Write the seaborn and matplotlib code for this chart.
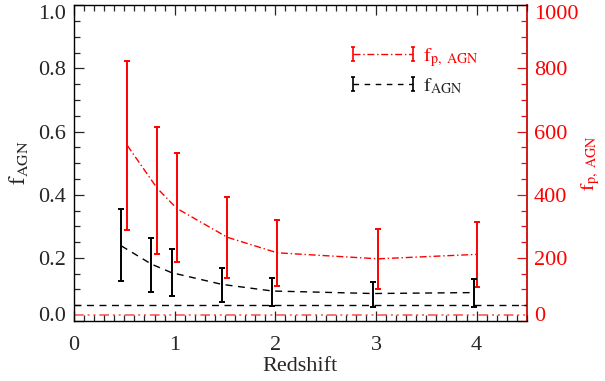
import numpy as np
import pandas as pd
import matplotlib
matplotlib.use("Agg")
import matplotlib.pyplot as plt
from matplotlib.path import Path
from matplotlib.lines import Line2D
from matplotlib.ticker import MultipleLocator
import seaborn as sns

# ---- data ----
z_agn = [0.47, 0.77, 0.97, 1.47, 1.97, 2.97, 3.97]
f_agn = [0.238, 0.180, 0.153, 0.116, 0.095, 0.087, 0.090]
f_agn_hi = [0.354, 0.262, 0.229, 0.169, 0.137, 0.125, 0.134]
f_agn_lo = [0.127, 0.093, 0.080, 0.060, 0.048, 0.045, 0.045]

z_fp = [0.53, 0.825, 1.02, 1.525, 2.02, 3.02, 4.0]
f_p = [556, 421, 357, 265, 216, 197, 211]
f_p_hi = [825, 613, 531, 394, 320, 292, 313]
f_p_lo = [288, 212, 187, 137, 111, 102, 108]

f_agn_ref = 0.05
f_p_ref = 20

xticks = [0, 1, 2, 3, 4]
yticks_left = [0.0, 0.2, 0.4, 0.6, 0.8, 1.0]
yticks_right = [0, 200, 400, 600, 800, 1000]

# ---- style ----
sns.set_style("ticks")
plt.rcParams["font.family"] = ["Liberation Serif", "DejaVu Serif"]
plt.rcParams["mathtext.fontset"] = "stix"
plt.rcParams["font.size"] = 16

RED = "#FF0000"
SPINE_RED = "#D01818"

fig = plt.figure(figsize=(6.05, 3.81), dpi=100)
ax = fig.add_axes([0.1223, 0.1575, 0.7487, 0.8285])
ax2 = ax.twinx()

df_a = pd.DataFrame({"z": z_agn, "f": f_agn})
df_p = pd.DataFrame({"z": z_fp, "f": f_p})

# black series
sns.lineplot(data=df_a, x="z", y="f", ax=ax, color="black", lw=1.0,
             linestyle=(0, (5, 4)), legend=False)
ax.errorbar(z_agn, f_agn,
            yerr=[np.array(f_agn) - np.array(f_agn_lo), np.array(f_agn_hi) - np.array(f_agn)],
            fmt="none", ecolor="black", elinewidth=1.4, capsize=2.2, capthick=1.4)
ax.axhline(f_agn_ref, color="black", lw=1.0, linestyle=(0, (5, 4)))

# red series
sns.lineplot(data=df_p, x="z", y="f", ax=ax2, color=RED, lw=1.0,
             linestyle=(0, (5, 2, 1, 2)), legend=False)
ax2.errorbar(z_fp, f_p,
             yerr=[np.array(f_p) - np.array(f_p_lo), np.array(f_p_hi) - np.array(f_p)],
             fmt="none", ecolor=RED, elinewidth=1.4, capsize=2.2, capthick=1.4)
ax2.axhline(f_p_ref, color="#FF7070", lw=1.4, linestyle=(0, (5, 2, 1, 2, 1, 2)))

# axes setup
ax.set_xlim(0, 4.5)
ax.set_ylim(0, 1.0)
ax2.set_ylim(0, 1000)
ax.set_xticks(xticks)
ax.set_xticklabels([str(v) for v in xticks])
ax.set_yticks(yticks_left)
ax.set_yticklabels([f"{v:.1f}" for v in yticks_left])
ax2.set_yticks(yticks_right)
ax2.set_yticklabels([str(v) for v in yticks_right])
ax.xaxis.set_minor_locator(MultipleLocator(0.1))
ax.yaxis.set_minor_locator(MultipleLocator(0.05))
ax2.yaxis.set_minor_locator(MultipleLocator(50))

ax.tick_params(axis="x", which="both", direction="in", top=True, bottom=True, labelsize=16, pad=11)
ax.tick_params(axis="y", which="both", direction="in", left=True, right=False, labelsize=16, pad=6)
ax.tick_params(which="major", length=7, width=0.9)
ax.tick_params(which="minor", length=4, width=0.9)
ax2.tick_params(axis="y", which="both", direction="in", colors=RED, labelsize=16, pad=5)
ax2.tick_params(axis="y", which="major", length=7, width=0.9, color=SPINE_RED)
ax2.tick_params(axis="y", which="minor", length=4, width=0.9, color=SPINE_RED)

# extreme tick labels nudged inside the axis range, as in the reference
for a in (ax, ax2):
    mt = a.yaxis.get_major_ticks()
    for side in ("label1", "label2"):
        getattr(mt[0], side).set_verticalalignment("baseline")
        getattr(mt[-1], side).set_verticalalignment("top")

for s in ["left", "top", "bottom"]:
    ax.spines[s].set_linewidth(1.0)
    ax.spines[s].set_color("black")
ax2.spines["right"].set_color(SPINE_RED)
ax2.spines["right"].set_linewidth(1.4)
ax2.spines["left"].set_visible(False)
ax2.spines["top"].set_visible(False)
ax2.spines["bottom"].set_visible(False)
ax.spines["right"].set_visible(False)

ax.set_xlabel("Redshift", fontsize=16, labelpad=1)
ax.set_ylabel(r"$\mathrm{f_{AGN}}$", fontsize=16.5, labelpad=5)
ax2.set_ylabel(r"$\mathrm{f_{p,\ AGN}}$", fontsize=14.5, color=RED, labelpad=0.5, rotation=90)

# legend with I-shaped caps at both ends
cap = Path([(-0.35, 1), (0.35, 1), (0, 1), (0, -1), (-0.35, -1), (0.35, -1)],
           [Path.MOVETO, Path.LINETO, Path.MOVETO, Path.LINETO, Path.MOVETO, Path.LINETO])
h_red = Line2D([], [], color=RED, lw=1.0, linestyle=(0, (5, 2, 1, 2)),
               marker=cap, markersize=10, markeredgewidth=1.2, markeredgecolor=RED)
h_blk = Line2D([], [], color="black", lw=1.0, linestyle=(0, (4, 4)),
               marker=cap, markersize=10, markeredgewidth=1.2, markeredgecolor="black")
leg = ax.legend([h_red, h_blk], [r"$\mathrm{f_{p,\ AGN}}$", r"$\mathrm{f_{AGN}}$"],
                loc="upper left", bbox_to_anchor=(0.585, 0.896), frameon=False,
                numpoints=2, handlelength=3.6, handletextpad=0.15, labelspacing=0.35,
                fontsize=14.5, borderaxespad=0)
leg.get_texts()[0].set_color(RED)
ax.set_zorder(ax2.get_zorder() + 1)
ax.patch.set_visible(False)

fig.savefig("out.png", dpi=100)
